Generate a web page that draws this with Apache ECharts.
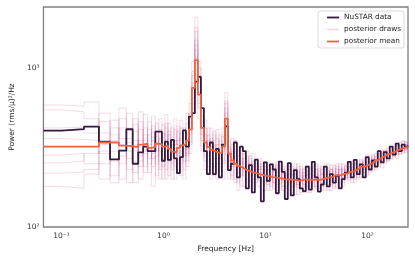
<!DOCTYPE html>
<html><head><meta charset="utf-8">
<script src="https://cdn.jsdelivr.net/npm/echarts@6/dist/echarts.min.js"></script>
<style>html,body{margin:0;padding:0;background:#fff}#c{width:415px;height:260px}</style>
</head><body><div id="c"></div>
<script>
// Frequency bins [Hz]
const freq = [0.0667, 0.1333, 0.2, 0.2667, 0.3333, 0.4, 0.4667, 0.5333, 0.6, 0.6667, 0.7333, 0.8, 0.8667, 0.9333, 1.0,
1.070, 1.145, 1.225, 1.311, 1.403, 1.501, 1.606, 1.718, 1.838, 1.967,
2.105, 2.252, 2.410, 2.579, 2.759, 2.952, 3.159, 3.380, 3.617, 3.870,
4.141, 4.430, 4.741, 5.072, 5.427, 5.807, 6.214, 6.649, 7.114, 7.612,
8.145, 8.715, 9.325, 9.978, 10.68, 11.42, 12.22, 13.08, 13.99, 14.97,
16.02, 17.14, 18.34, 19.63, 21.00, 22.47, 24.05, 25.73, 27.53, 29.46,
31.52, 33.73, 36.09, 38.61, 41.32, 44.21, 47.30, 50.61, 54.16, 57.95,
62.00, 66.34, 70.99, 75.96, 81.27, 86.96, 93.05, 99.56, 106.5, 114.0,
122.0, 130.5, 139.6, 149.4, 159.9, 171.1, 183.0, 195.8, 209.5, 224.2,
239.9, 250.0];

// NuSTAR periodogram power
const nustarData = [404, 413, 428, 344, 266, 302, 412, 250, 295, 320, 300, 300, 398, 398, 261,
344, 264, 353, 270, 218, 275, 405, 320, 495, 520,
820, 880, 560, 300, 215, 340, 215, 310, 205, 330,
430, 228, 250, 340, 205, 320, 300, 175, 245, 165,
265, 205, 145, 255, 195, 248, 230, 163, 258,
222, 150, 252, 158, 228, 200, 175, 168, 240, 172, 257, 205, 167, 185, 240, 180, 215, 190, 210, 175, 200, 220, 257, 205, 264, 215, 248, 205, 275, 230, 262, 240, 300, 255, 296, 270, 320, 285, 335, 300, 330, 318, 325];

// Posterior mean
const posteriorMean = [320, 320, 320, 340, 340, 325, 322, 318, 330, 335, 315, 318, 335, 332, 320,
325, 310, 298, 295, 315, 325, 332, 350, 410, 750,
1120, 680, 420, 340, 318, 305, 298, 294, 292, 320,
480, 290, 262, 250, 242, 236, 230, 226, 222, 220,
217, 214, 212, 210, 208, 206, 205, 204, 202, 200,
199, 199, 198, 198, 195, 197, 199, 197, 198, 198,
199, 198, 201, 203, 205, 207, 212, 211, 213, 216,
218, 222, 223, 229, 233, 240, 241, 246, 251, 255,
263, 270, 276, 284, 288, 294, 298, 305, 310, 315,
318, 320];

// Posterior draws
const draw1 = [545, 530, 480, 290, 420, 250, 360, 300, 460, 220, 380, 270, 300, 410, 240,
420, 260, 350, 480, 230, 300, 390, 280, 520, 900,
1500, 820, 380, 260, 420, 230, 350, 410, 210, 300,
620, 240, 330, 200, 280, 310, 180, 260, 230, 290,
190, 250, 230, 170, 260, 210, 240, 185, 230, 215,
175, 230, 210, 180, 240, 195, 220, 165, 215, 235,
180, 225, 200, 240, 185, 230, 195, 250, 200, 235,
205, 250, 215, 255, 220, 265, 230, 270, 245, 285,
245, 300, 260, 305, 275, 320, 290, 335, 300, 345, 310, 330];
const draw2 = [180, 175, 215, 390, 260, 480, 230, 400, 280, 350, 250, 430, 210, 330, 390,
230, 380, 250, 330, 400, 210, 280, 450, 330, 600,
2090, 560, 500, 300, 240, 360, 270, 220, 380, 260,
420, 350, 210, 300, 190, 270, 250, 300, 175, 240,
260, 180, 240, 225, 170, 250, 190, 235, 175, 220,
240, 170, 225, 205, 160, 230, 185, 245, 190, 170,
230, 175, 240, 190, 225, 170, 245, 190, 230, 205,
245, 195, 260, 210, 250, 225, 270, 215, 280, 235,
290, 250, 300, 255, 320, 270, 325, 290, 340, 300, 330, 315];
const draw3 = [283, 290, 250, 200, 470, 330, 520, 190, 350, 420, 300, 180, 370, 260, 310,
510, 300, 200, 260, 350, 470, 230, 310, 380, 1100,
1300, 900, 300, 420, 280, 200, 400, 300, 250, 420,
520, 200, 290, 260, 310, 180, 290, 200, 270, 200,
240, 230, 170, 255, 215, 180, 250, 220, 200, 180,
225, 200, 180, 250, 205, 175, 230, 210, 180, 240,
200, 245, 180, 215, 250, 195, 225, 175, 240, 190,
225, 215, 190, 245, 205, 260, 220, 285, 230, 260,
275, 240, 305, 265, 290, 310, 280, 320, 290, 350, 305, 325];
const draw4 = [420, 425, 390, 520, 210, 280, 300, 440, 200, 290, 460, 350, 250, 480, 270,
280, 450, 330, 200, 290, 360, 420, 240, 450, 700,
900, 1000, 560, 230, 350, 320, 220, 360, 330, 200,
700, 280, 240, 350, 220, 250, 300, 190, 240, 260,
200, 270, 210, 195, 245, 230, 175, 260, 190, 240,
200, 250, 165, 215, 185, 240, 165, 225, 200, 210,
250, 195, 215, 170, 235, 215, 180, 230, 190, 250,
200, 235, 240, 200, 265, 215, 255, 230, 250, 280,
230, 285, 255, 290, 300, 265, 310, 285, 325, 295, 340, 310];
const draw5 = [253, 260, 290, 300, 350, 560, 190, 260, 410, 240, 330, 400, 450, 200, 350,
340, 210, 420, 290, 250, 390, 200, 380, 290, 800,
1700, 600, 350, 470, 220, 290, 330, 250, 300, 370,
380, 310, 200, 230, 260, 230, 210, 250, 280, 190,
230, 205, 260, 190, 230, 170, 225, 200, 245, 170,
215, 185, 240, 160, 225, 210, 200, 180, 230, 190,
175, 210, 230, 205, 170, 245, 210, 200, 230, 215,
230, 200, 230, 220, 240, 205, 245, 260, 220, 250,
265, 275, 235, 300, 260, 295, 275, 310, 325, 305, 320, 335];
const draw6 = [585, 575, 610, 250, 300, 200, 420, 350, 260, 510, 220, 290, 380, 300, 440,
200, 330, 290, 410, 330, 250, 350, 290, 600, 650,
1150, 700, 440, 280, 380, 250, 240, 330, 270, 310,
560, 260, 360, 190, 250, 290, 240, 220, 195, 250,
215, 240, 195, 230, 185, 235, 210, 170, 235, 205,
180, 215, 200, 235, 175, 205, 235, 190, 165, 225,
215, 190, 170, 230, 200, 185, 235, 220, 175, 230,
210, 240, 205, 235, 200, 250, 230, 240, 265, 225,
255, 265, 280, 250, 310, 285, 300, 270, 305, 330, 295, 320];
const draw7 = [218, 222, 230, 460, 380, 360, 270, 220, 530, 300, 410, 240, 280, 360, 200,
450, 270, 310, 240, 430, 330, 260, 520, 340, 950,
1800, 480, 320, 380, 330, 420, 210, 280, 350, 250,
450, 320, 270, 280, 170, 260, 220, 280, 210, 230,
250, 195, 220, 240, 200, 220, 190, 245, 170, 230,
235, 190, 215, 185, 250, 165, 210, 240, 205, 180,
230, 205, 190, 250, 215, 230, 175, 205, 250, 195,
240, 220, 250, 190, 230, 240, 210, 250, 240, 270,
250, 290, 270, 275, 285, 300, 320, 300, 285, 320, 345, 305];
const draw8 = [360, 355, 350, 330, 190, 420, 340, 480, 240, 380, 270, 500, 330, 230, 300,
300, 400, 230, 350, 280, 420, 310, 260, 420, 560,
1400, 1100, 460, 350, 260, 310, 380, 200, 240, 330,
600, 230, 300, 240, 300, 210, 270, 240, 250, 175,
210, 230, 250, 210, 225, 200, 230, 210, 215, 195,
210, 240, 190, 225, 200, 220, 180, 215, 235, 200,
195, 235, 215, 185, 220, 200, 215, 240, 210, 180,
220, 205, 225, 250, 215, 235, 260, 210, 255, 245,
280, 255, 290, 300, 260, 305, 295, 325, 310, 290, 325, 330];
const posteriorDraws = [draw1, draw2, draw3, draw4, draw5, draw6, draw7, draw8];

// Tick labels (log10 exponent -> label)
const xTickLabels = {'-1': '10⁻¹', '0': '10⁰', '1': '10¹', '2': '10²'};
const yTickLabels = {'2': '10²', '3': '10³'};
const yMaxPower = 2420;

function stepPoints(f, v) {
  const n = f.length, pts = [];
  for (let i = 0; i < n; i++) {
    const l = i === 0 ? f[0] : (f[i - 1] + f[i]) / 2;
    const r = i === n - 1 ? f[n - 1] : (f[i] + f[i + 1]) / 2;
    const y = Math.log10(v[i]);
    pts.push([Math.log10(l), y], [Math.log10(r), y]);
  }
  return pts;
}
function labelFor(map) {
  return function (v) {
    const r = Math.round(v);
    if (Math.abs(v - r) > 1e-6) return '';
    return map[String(r)] || '';
  };
}

const FONT = 'DejaVu Sans';
const DARK = '#35193e', MEAN = '#f3613f', DRAW = 'rgba(192,40,110,0.17)';

const series = [];
posteriorDraws.forEach(function (d) {
  series.push({
    type: 'line', name: 'posterior draws', data: stepPoints(freq, d),
    symbol: 'none', showSymbol: false, z: 1, silent: true,
    itemStyle: {color: DRAW}, lineStyle: {color: DRAW, width: 1}
  });
});
series.push({
  type: 'line', name: 'NuSTAR data', data: stepPoints(freq, nustarData),
  symbol: 'none', showSymbol: false, z: 3,
  itemStyle: {color: DARK}, lineStyle: {color: DARK, width: 1.8}
});
series.push({
  type: 'line', name: 'posterior mean', data: stepPoints(freq, posteriorMean),
  symbol: 'none', showSymbol: false, z: 4,
  itemStyle: {color: MEAN}, lineStyle: {color: MEAN, width: 1.8}
});

const chart = echarts.init(document.getElementById('c'), null, {renderer: 'canvas'});
chart.setOption({
  animation: false,
  textStyle: {fontFamily: FONT},
  grid: {left: 40, right: 7, top: 7, bottom: 33, show: true, borderColor: '#808080', borderWidth: 1.3, backgroundColor: 'transparent'},
  legend: {
    orient: 'vertical', right: 11, top: 11, selectedMode: false,
    data: [
      {name: 'NuSTAR data', icon: 'rect', itemStyle: {color: DARK}},
      {name: 'posterior draws', icon: 'rect', itemStyle: {color: DRAW}},
      {name: 'posterior mean', icon: 'rect', itemStyle: {color: MEAN}}
    ],
    itemWidth: 12, itemHeight: 1.8, itemGap: 3,
    padding: [2, 3, 2, 9],
    borderColor: '#d0d0d0', borderWidth: 0.8, borderRadius: 2,
    backgroundColor: 'rgba(255,255,255,0.8)',
    textStyle: {fontSize: 7.3, color: '#222', fontFamily: FONT, lineHeight: 9}
  },
  xAxis: {
    type: 'value',
    min: Math.log10(freq[0]), max: Math.log10(freq[freq.length - 1]),
    splitNumber: 4,
    name: 'Frequency [Hz]', nameLocation: 'middle', nameGap: 15,
    nameTextStyle: {fontSize: 7.5, color: '#222', fontFamily: FONT},
    axisLine: {show: false}, axisTick: {show: false}, splitLine: {show: false},
    axisLabel: {formatter: labelFor(xTickLabels), fontSize: 7.5, color: '#333', margin: 5, fontFamily: FONT, showMinLabel: true, showMaxLabel: true}
  },
  yAxis: {
    type: 'value', min: 2, max: Math.log10(yMaxPower), interval: 1,
    name: 'Power (rms/μ)²/Hz', nameLocation: 'middle', nameGap: 22, nameRotate: 90,
    nameTextStyle: {fontSize: 7.5, color: '#222', fontFamily: FONT},
    axisLine: {show: false}, axisTick: {show: false}, splitLine: {show: false},
    axisLabel: {formatter: labelFor(yTickLabels), fontSize: 7.5, color: '#333', margin: 4, fontFamily: FONT}
  },
  series: series
});
</script>
</body></html>
